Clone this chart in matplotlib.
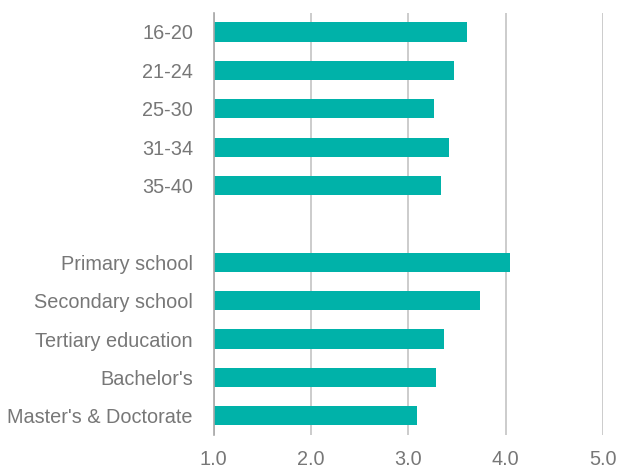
import matplotlib
matplotlib.use("Agg")
import matplotlib.pyplot as plt
import numpy as np

age_groups = ["16-20", "21-24", "25-30", "31-34", "35-40"]
age_values = [3.60, 3.47, 3.26, 3.42, 3.34]

education = ["Primary school", "Secondary school", "Tertiary education",
             "Bachelor's", "Master's & Doctorate"]
education_values = [4.04, 3.74, 3.37, 3.28, 3.09]

x_ticks = [1.0, 2.0, 3.0, 4.0, 5.0]

BAR_COLOR = "#00b2a9"
TEXT_COLOR = "#777777"
GRID_COLOR = "#c4c4c4"

plt.rcParams["font.family"] = ["Liberation Sans", "DejaVu Sans"]

# one empty slot between the two groups
labels = age_groups + [""] + education
values = age_values + [np.nan] + education_values
pos = np.arange(len(labels))

fig = plt.figure(figsize=(6.2, 4.7), dpi=100)
ax = fig.add_axes([0.3447, 0.0745, 0.9726 - 0.3447, 0.9728 - 0.0745])

mask = ~np.isnan(values)
ax.barh(pos[mask], np.array(values)[mask] - 1.0, left=1.0, height=0.5,
        color=BAR_COLOR, zorder=3)

ax.set_xlim(1.0, 5.0)
ax.set_ylim(len(labels) - 0.5, -0.5)
ax.set_xticks(x_ticks)
ax.set_xticklabels([f"{t:.1f}" for t in x_ticks])
ax.set_yticks(pos)
ax.set_yticklabels(labels)

ax.grid(axis="x", color=GRID_COLOR, linewidth=1.2, zorder=0)
ax.set_axisbelow(True)
for side in ["top", "right", "bottom"]:
    ax.spines[side].set_visible(False)
ax.spines["left"].set_color("#a8a8a8")
ax.spines["left"].set_linewidth(1.2)
ax.spines["left"].set_zorder(4)

ax.tick_params(axis="y", length=0, pad=15, labelsize=14.3, labelcolor=TEXT_COLOR)
ax.tick_params(axis="x", length=0, pad=11, labelsize=14.3, labelcolor=TEXT_COLOR)

fig.savefig("out.png", dpi=100)
